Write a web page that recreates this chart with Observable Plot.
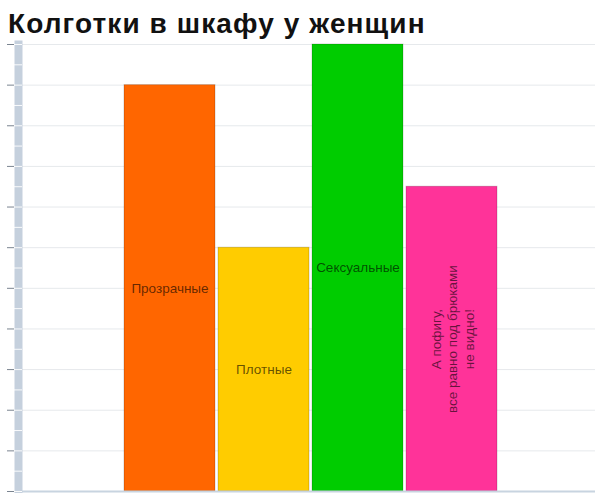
<!DOCTYPE html>
<html>
<head>
<meta charset="utf-8">
<script src="https://cdn.jsdelivr.net/npm/d3@7"></script>
<script src="https://cdn.jsdelivr.net/npm/@observablehq/plot@0.6"></script>
<style>
  html, body { margin: 0; padding: 0; background: #fff; }
  #title { height: 40px; box-sizing: border-box; padding: 10px 0 0 8px; font: bold 28px/28px "Liberation Sans", Arial, sans-serif; letter-spacing: 1.1px; color: #111; white-space: nowrap; overflow: hidden; }
  #chart svg { display: block; }
</style>
</head>
<body>
<div id="title">Колготки в шкафу у женщин</div>
<div id="chart"></div>
<script>
const categories = ["Прозрачные", "Плотные", "Сексуальные", "Пофигу"];
const values = [10, 6, 11, 7.5];
const colors = ["#ff6600", "#ffcc00", "#00cc00", "#ff3399"];
const labels = ["Прозрачные", "Плотные", "Сексуальные", "А пофигу,\nвсе равно под брюками\nне видно!"];
const rotated = [false, false, false, true];
const majorTicks = [0,1,2,3,4,5,6,7,8,9,10,11];
const minorTicks = [0.5,1.5,2.5,3.5,4.5,5.5,6.5,7.5,8.5,9.5,10.5];

const data = categories.map((c, i) => ({name: c, value: values[i], label: labels[i], rotated: rotated[i]}));

const chart = Plot.plot({
  width: 595,
  height: 453,
  marginTop: 4,
  marginBottom: 2,
  marginLeft: 22,
  marginRight: 0,
  style: {fontFamily: "'Liberation Sans', Arial, sans-serif", background: "#fff"},
  x: {domain: categories, range: [124, 497], paddingInner: 0.032, paddingOuter: 0, axis: null},
  y: {domain: [0, 11], axis: null},
  color: {domain: categories, range: colors},
  marks: [
    Plot.ruleY(majorTicks, {stroke: "#e6e9ec", strokeWidth: 1}),
    Plot.frame({anchor: "left", stroke: "#c5d0dd", strokeWidth: 8, dx: -4}),
    Plot.axisY(minorTicks.concat(majorTicks), {tickSize: 8, stroke: "#ffffff", strokeOpacity: 0.9, tickFormat: () => "", label: null}),
    Plot.axisY(majorTicks, {tickSize: 7, dx: -8, stroke: "#7a8490", tickFormat: () => "", label: null}),
    Plot.barY(data, {x: "name", y: "value", fill: "name", stroke: "#000", strokeOpacity: 0.18, strokeWidth: 1}),
    Plot.text(data.filter(d => !d.rotated), {x: "name", y: d => d.value / 2, text: "label", fontSize: 13.5, fill: "#000", fillOpacity: 0.62}),
    Plot.text(data.filter(d => d.rotated), {x: "name", y: d => d.value / 2, text: "label", rotate: -90, fontSize: 13.5, lineHeight: 1.25, fill: "#000", fillOpacity: 0.6}),
    Plot.ruleY([0], {stroke: "#c8d4e0", strokeWidth: 2})
  ]
});
document.getElementById("chart").appendChild(chart);
</script>
</body>
</html>
